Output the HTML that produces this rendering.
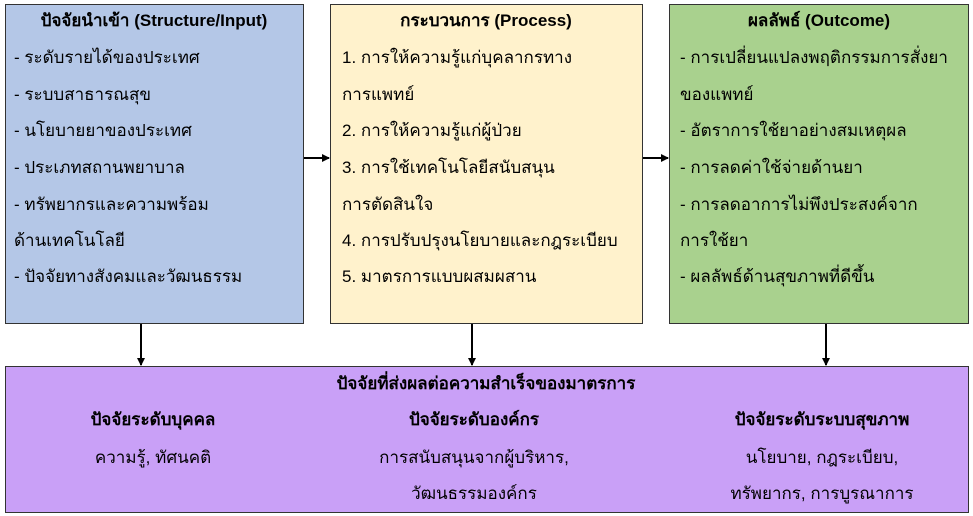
<!DOCTYPE html>
<html><head><meta charset="utf-8"><style>
body{margin:0;width:973px;height:516px;background:#fff;position:relative;overflow:hidden;font-family:"Liberation Sans","DejaVu Sans","Noto Sans CJK SC",sans-serif;font-size:17px;color:#000}
.box{position:absolute;border:1.5px solid #333;box-sizing:border-box}
.t{position:absolute;white-space:nowrap;line-height:20px}
.b{font-weight:bold}
.c{transform:translateX(-50%)}
</style></head><body>
<div class="box" style="left:5px;top:4px;width:299px;height:320px;background:#b4c7e7"></div>
<div class="box" style="left:330px;top:4px;width:313px;height:320px;background:#fff2cc"></div>
<div class="box" style="left:669px;top:4px;width:300px;height:320px;background:#a9d18e"></div>
<div class="box" style="left:5px;top:366px;width:964px;height:147px;background:#c9a0f7"></div>

<svg style="position:absolute;left:0;top:0" width="973" height="516">
<defs><marker id="a" markerWidth="8" markerHeight="8" refX="7" refY="4" orient="auto" markerUnits="userSpaceOnUse"><path d="M0,0L8,4L0,8z" fill="#000"/></marker></defs>
<g stroke="#000" stroke-width="2" marker-end="url(#a)">
<line x1="304" y1="158" x2="329" y2="158"/>
<line x1="643" y1="158" x2="668" y2="158"/>
<line x1="141" y1="324" x2="141" y2="365"/>
<line x1="472" y1="324" x2="472" y2="365"/>
<line x1="826" y1="324" x2="826" y2="365"/>
</g></svg>

<div class="t b c" style="left:154px;top:11px">ปัจจัยนำเข้า (Structure/Input)</div>
<div class="t" style="left:14px;top:48px">- ระดับรายได้ของประเทศ</div>
<div class="t" style="left:14px;top:85px">- ระบบสาธารณสุข</div>
<div class="t" style="left:14px;top:121px">- นโยบายยาของประเทศ</div>
<div class="t" style="left:14px;top:158px">- ประเภทสถานพยาบาล</div>
<div class="t" style="left:14px;top:195px">- ทรัพยากรและความพร้อม</div>
<div class="t" style="left:14px;top:231px">ด้านเทคโนโลยี</div>
<div class="t" style="left:14px;top:267px">- ปัจจัยทางสังคมและวัฒนธรรม</div>

<div class="t b c" style="left:486px;top:11px">กระบวนการ (Process)</div>
<div class="t" style="left:342px;top:48px">1. การให้ความรู้แก่บุคลากรทาง</div>
<div class="t" style="left:342px;top:85px">การแพทย์</div>
<div class="t" style="left:342px;top:121px">2. การให้ความรู้แก่ผู้ป่วย</div>
<div class="t" style="left:342px;top:158px">3. การใช้เทคโนโลยีสนับสนุน</div>
<div class="t" style="left:342px;top:195px">การตัดสินใจ</div>
<div class="t" style="left:342px;top:231px">4. การปรับปรุงนโยบายและกฎระเบียบ</div>
<div class="t" style="left:342px;top:267px">5. มาตรการแบบผสมผสาน</div>

<div class="t b c" style="left:819px;top:11px">ผลลัพธ์ (Outcome)</div>
<div class="t" style="left:680px;top:48px">- การเปลี่ยนแปลงพฤติกรรมการสั่งยา</div>
<div class="t" style="left:680px;top:85px">ของแพทย์</div>
<div class="t" style="left:680px;top:121px">- อัตราการใช้ยาอย่างสมเหตุผล</div>
<div class="t" style="left:680px;top:158px">- การลดค่าใช้จ่ายด้านยา</div>
<div class="t" style="left:680px;top:195px">- การลดอาการไม่พึงประสงค์จาก</div>
<div class="t" style="left:680px;top:231px">การใช้ยา</div>
<div class="t" style="left:680px;top:267px">- ผลลัพธ์ด้านสุขภาพที่ดีขึ้น</div>

<div class="t b c" style="left:486px;top:374px">ปัจจัยที่ส่งผลต่อความสำเร็จของมาตรการ</div>
<div class="t b c" style="left:153px;top:410px">ปัจจัยระดับบุคคล</div>
<div class="t c" style="left:153px;top:448px">ความรู้, ทัศนคติ</div>
<div class="t b c" style="left:474px;top:410px">ปัจจัยระดับองค์กร</div>
<div class="t c" style="left:474px;top:448px">การสนับสนุนจากผู้บริหาร,</div>
<div class="t c" style="left:474px;top:484px">วัฒนธรรมองค์กร</div>
<div class="t b c" style="left:822px;top:410px">ปัจจัยระดับระบบสุขภาพ</div>
<div class="t c" style="left:822px;top:448px">นโยบาย, กฎระเบียบ,</div>
<div class="t c" style="left:822px;top:484px">ทรัพยากร, การบูรณาการ</div>
</body></html>
